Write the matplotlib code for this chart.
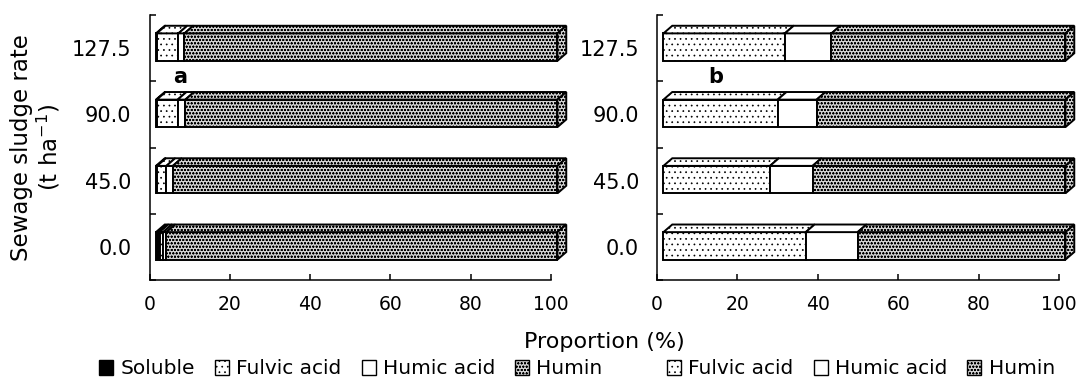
import matplotlib
matplotlib.use("Agg")
import matplotlib.pyplot as plt
from matplotlib.patches import Polygon, Patch

plt.rcParams["font.family"] = ["DejaVu Sans"]
plt.rcParams["hatch.linewidth"] = 0.5

# data (proportions, %)
rates = ["0.0", "45.0", "90.0", "127.5"]

soluble_a = [0.9, 0.3, 0.2, 0.2]
fulvic_a = [0.9, 2.3, 5.2, 5.4]
humic_a = [0.8, 1.6, 1.9, 1.5]
humin_a = [97.4, 95.8, 92.7, 92.9]

fulvic_b = [35.4, 26.5, 28.4, 30.2]
humic_b = [12.9, 10.6, 9.7, 11.6]
humin_b = [51.7, 62.9, 61.9, 58.2]

# styles for the fractions
st_soluble = dict(facecolor="black", edgecolor="black", hatch=None)
st_fulvic = dict(facecolor="white", edgecolor="black", hatch="...")
st_humic = dict(facecolor="white", edgecolor="black", hatch=None)
st_humin = dict(facecolor="#d2d2d2", edgecolor="black", hatch="ooooo")

# 3d look of the bars
x0 = 1.6      # front face starts a bit right of the axis
h = 0.415     # height of front face
dx = 2.2      # depth in x
dy = 0.115    # depth in y
lw = 1.4


def draw_bars(ax, series, styles):
    for i in range(len(rates)):
        yb = i + 0.015 - h / 2
        yt = yb + h
        x = x0
        for vals, st in zip(series, styles):
            v = vals[i]
            ax.barh(i + 0.015, v, height=h, left=x, linewidth=lw,
                    clip_on=False, zorder=3, **st)
            top = [(x, yt), (x + v, yt), (x + v + dx, yt + dy), (x + dx, yt + dy)]
            ax.add_patch(Polygon(top, closed=True, linewidth=lw, clip_on=False,
                                 zorder=3, **st))
            x += v
        side = [(x, yb), (x + dx, yb + dy), (x + dx, yt + dy), (x, yt)]
        ax.add_patch(Polygon(side, closed=True, linewidth=lw, clip_on=False,
                             zorder=3, **styles[-1]))


def style_axis(ax):
    ax.set_xlim(0, 100)
    ax.set_ylim(-0.5, 3.5)
    ax.spines["top"].set_visible(False)
    ax.spines["right"].set_visible(False)
    ax.spines["left"].set_linewidth(1.1)
    ax.spines["bottom"].set_linewidth(1.1)
    ax.set_xticks(range(0, 101, 20))
    ax.tick_params(axis="x", direction="in", length=4, width=1.1,
                   labelsize=13.5, pad=11)
    ax.set_yticks(range(len(rates)))
    ax.set_yticklabels(rates)
    ax.set_yticks([-0.5, 0.5, 1.5, 2.5, 3.5], minor=True)
    ax.tick_params(axis="y", which="major", length=0, labelsize=15, pad=13)
    ax.tick_params(axis="y", which="minor", direction="in", length=4, width=1.1)


fig = plt.figure(figsize=(10.79, 3.79), dpi=100)
ax1 = fig.add_axes([149.5 / 1079, 99 / 379, 401.5 / 1079, 265 / 379])
ax2 = fig.add_axes([657 / 1079, 99 / 379, 402 / 1079, 265 / 379])

draw_bars(ax1, [soluble_a, fulvic_a, humic_a, humin_a],
          [st_soluble, st_fulvic, st_humic, st_humin])
draw_bars(ax2, [fulvic_b, humic_b, humin_b],
          [st_fulvic, st_humic, st_humin])

for ax in (ax1, ax2):
    style_axis(ax)

ax1.text(5.9, 2.56, "a", fontsize=15, fontweight="bold", ha="left", va="center")
ax2.text(12.7, 2.56, "b", fontsize=15, fontweight="bold", ha="left", va="center")

fig.text(604 / 1079, (379 - 342) / 379, "Proportion (%)", fontsize=16,
         ha="center", va="center")
fig.text(36 / 1079, (379 - 147.5) / 379, "Sewage sludge rate\n(t ha$^{-1}$)",
         fontsize=16.5, rotation=90, ha="center", va="center",
         multialignment="center", linespacing=1.1)

# legends
def handle(st, label):
    return Patch(linewidth=1.0, label=label, **st)

leg_kw = dict(loc="center", frameon=False, fontsize=14.5, handlelength=0.7,
              handleheight=0.7, handletextpad=0.35, columnspacing=1.0,
              borderaxespad=0, borderpad=0)
fig.legend(handles=[handle(st_soluble, "Soluble"), handle(st_fulvic, "Fulvic acid"),
                    handle(st_humic, "Humic acid"), handle(st_humin, "Humin")],
           ncol=4, bbox_to_anchor=(351 / 1079, (379 - 369) / 379), **leg_kw)
fig.legend(handles=[handle(st_fulvic, "Fulvic acid"), handle(st_humic, "Humic acid"),
                    handle(st_humin, "Humin")],
           ncol=3, bbox_to_anchor=(861 / 1079, (379 - 369) / 379), **leg_kw)

fig.savefig("out.png", dpi=100)
